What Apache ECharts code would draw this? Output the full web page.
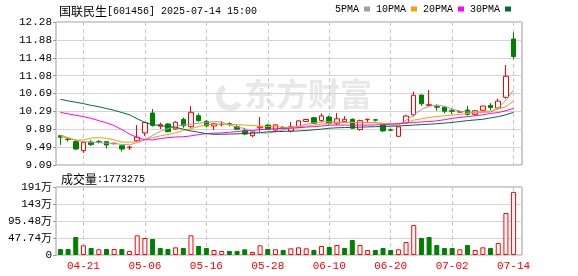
<!DOCTYPE html>
<html>
<head>
<meta charset="utf-8">
<script src="https://cdn.jsdelivr.net/npm/echarts@6/dist/echarts.min.js"></script>
<style>
html,body{margin:0;padding:0;background:#fff;}
#c{width:578px;height:276px;}
</style>
</head>
<body>
<div id="c"></div>
<script>
// ---- data ----
var dates = ['04-16','04-17','04-18','04-21','04-22','04-23','04-24','04-25','04-28','04-29',
  '04-30','05-06','05-07','05-08','05-09','05-12','05-13','05-14','05-15','05-16',
  '05-19','05-20','05-21','05-22','05-23','05-26','05-27','05-28','05-29','05-30',
  '06-03','06-04','06-05','06-06','06-09','06-10','06-11','06-12','06-13','06-16',
  '06-17','06-18','06-19','06-20','06-23','06-24','06-25','06-26','06-27','06-30',
  '07-01','07-02','07-03','07-04','07-07','07-08','07-09','07-10','07-11','07-14'];

var opens = [9.745,9.67,9.61,9.41,9.60,9.61,9.61,9.565,9.52,9.475,
  9.63,9.805,10.25,9.955,10.005,9.895,10.105,9.944,10.19,10.065,
  9.96,9.99,10.01,9.945,9.855,9.744,9.92,9.98,9.87,9.93,
  9.845,9.93,10.06,10.145,10.08,10.16,10.01,10.06,10.11,9.88,
  10.10,10.10,9.98,9.875,9.73,10.033,10.21,10.65,10.42,10.39,
  10.38,10.30,10.27,10.315,10.22,10.31,10.42,10.36,10.60,11.90];
var closes = [9.71,9.66,9.447,9.596,9.545,9.60,9.536,9.575,9.447,9.49,
  9.71,10.035,9.975,9.99,9.833,10.045,9.965,10.265,10.078,9.96,
  10.01,10.0,10.0,9.89,9.78,9.82,9.94,9.885,9.985,9.915,
  9.94,10.075,10.105,10.02,10.185,10.01,10.12,10.11,9.91,10.08,
  10.11,10.09,9.85,9.865,9.94,10.183,10.645,10.455,10.435,10.38,
  10.29,10.29,10.28,10.22,10.30,10.406,10.37,10.515,11.07,11.51];
var lows = [9.54,9.61,9.425,9.36,9.515,9.57,9.46,9.55,9.39,9.425,
  9.61,9.74,9.945,9.89,9.82,9.88,9.92,9.92,10.056,9.94,
  9.87,9.95,9.95,9.87,9.76,9.71,9.83,9.87,9.833,9.90,
  9.82,9.91,10.05,10.01,10.04,9.99,9.98,10.05,9.90,9.855,
  10.03,10.06,9.83,9.84,9.715,10.02,10.17,10.41,10.41,10.30,
  10.243,10.23,10.26,10.19,10.20,10.30,10.32,10.35,10.57,11.46];
var highs = [9.76,9.70,9.655,9.60,9.645,9.65,9.62,9.59,9.53,9.52,
  9.98,10.055,10.34,10.035,10.02,10.07,10.15,10.405,10.243,10.09,
  10.02,10.06,10.04,9.98,9.92,9.85,10.16,10.0,10.0,9.96,
  10.05,10.093,10.12,10.15,10.24,10.19,10.25,10.18,10.13,10.10,
  10.12,10.12,9.99,9.90,9.95,10.21,10.725,10.66,10.76,10.44,
  10.39,10.35,10.30,10.41,10.31,10.41,10.47,10.57,11.32,12.05];

var ma5 = [9.76,9.70,9.65,9.61,9.60,9.59,9.575,9.57,9.55,9.54,
  9.59,9.65,9.75,9.84,9.90,9.96,9.98,10.0,10.02,10.04,
  10.056,10.05,9.98,9.94,9.90,9.84,9.81,9.80,9.83,9.87,
  9.92,9.96,10.0,10.03,10.05,10.056,10.05,10.045,10.04,10.04,
  10.04,10.04,10.01,9.98,9.98,10.09,10.20,10.33,10.40,10.43,
  10.40,10.34,10.29,10.27,10.265,10.265,10.27,10.36,10.53,10.765];
var ma10 = [9.74,9.69,9.64,9.65,9.69,9.70,9.685,9.65,9.60,9.60,
  9.61,9.66,9.70,9.74,9.77,9.81,9.86,9.90,9.95,9.985,
  10.0,10.0,9.995,9.99,9.98,9.97,9.96,9.95,9.945,9.93,
  9.92,9.94,9.96,9.98,10.0,10.02,10.03,10.04,10.04,10.035,
  10.033,10.03,10.02,10.01,10.0,10.04,10.09,10.12,10.15,10.17,
  10.19,10.205,10.22,10.24,10.26,10.28,10.295,10.34,10.39,10.52];
var ma20 = [10.265,10.23,10.20,10.17,10.13,10.08,10.03,9.97,9.88,9.78,
  9.70,9.655,9.65,9.68,9.70,9.715,9.72,9.74,9.77,9.79,
  9.80,9.805,9.82,9.835,9.85,9.86,9.88,9.89,9.90,9.905,
  9.91,9.92,9.935,9.945,9.96,9.975,9.98,9.98,9.98,9.98,
  9.98,9.985,9.99,10.0,10.015,10.025,10.04,10.05,10.06,10.075,
  10.10,10.13,10.15,10.17,10.19,10.21,10.24,10.26,10.30,10.355];
var ma30 = [10.555,10.52,10.49,10.46,10.42,10.39,10.35,10.31,10.26,10.21,
  10.12,10.04,9.99,9.97,9.95,9.93,9.89,9.85,9.82,9.79,
  9.775,9.775,9.78,9.785,9.795,9.80,9.81,9.83,9.835,9.84,
  9.845,9.85,9.86,9.875,9.89,9.91,9.92,9.925,9.93,9.935,
  9.94,9.945,9.95,9.955,9.96,9.97,9.98,9.99,10.0,10.01,
  10.025,10.04,10.06,10.08,10.095,10.11,10.14,10.17,10.21,10.265];

var volumes = [168000,168000,505000,272000,197000,160000,168000,168000,168000,112000,
  552000,477000,449000,197000,168000,215000,197000,552000,253000,197000,
  140000,112000,112000,112000,160000,84000,272000,168000,160000,140000,
  187000,215000,187000,140000,253000,225000,280000,197000,421000,280000,
  140000,140000,197000,140000,160000,365000,842000,477000,505000,280000,
  197000,197000,160000,280000,140000,215000,197000,337000,1180000,1773275];
var volUp = [0,0,0,1,0,1,0,1,0,1,
  1,1,0,0,0,1,0,1,0,0,
  1,1,0,0,0,1,1,0,1,0,
  1,1,1,0,1,0,1,0,0,1,
  1,0,0,0,1,1,1,0,0,0,
  0,0,1,0,1,1,0,1,1,1];

var priceTicks = ['9.09','9.49','9.89','10.29','10.69','11.08','11.48','11.88','12.28'];
var volTicks = ['0','47.74万','95.48万','143万','191万'];
var priceMin = 9.09, priceMax = 12.28, volMax = 1909600;
var titleName = '国联民生', titleRest = '[601456] 2025-07-14 15:00';
var volName = '成交量', volRest = ':1773275';
var maNames = ['5PMA','10PMA','20PMA','30PMA'];
var maColors = ['#a0a0a0','#f5a000','#ff00ff','#006e32'];

// ---- chart ----
var RED = '#ff0000', GREEN = '#008000';
var MONO = 'Liberation Mono';
var CJK = 'Noto Sans CJK SC';
var labelEvery = function (i) { return (i - 3) % 8 === 0; };
var richText = {
  c: { fontSize: 12, fontFamily: CJK, color: '#000', fontWeight: 'normal' },
  l: { fontSize: 10, fontFamily: MONO, color: '#000', fontWeight: 'normal' },
  la: { fontSize: 11, fontFamily: MONO, color: '#000', fontWeight: 'normal' },
  ca: { fontSize: 11, fontFamily: CJK, color: '#000', fontWeight: 'normal' }
};

var candleData = opens.map(function (o, i) { return [o, closes[i], lows[i], highs[i]]; });
var volData = volumes.map(function (v, i) {
  var up = volUp[i] === 1;
  return { value: v, itemStyle: { color: up ? '#ffffff' : GREEN, borderColor: up ? RED : GREEN, borderWidth: 1 } };
});
var maSeries = [ma5, ma10, ma20, ma30].map(function (arr, k) {
  return {
    name: maNames[k], type: 'line', xAxisIndex: 1, yAxisIndex: 1, data: arr,
    symbol: 'none', smooth: false, animation: false,
    lineStyle: { color: maColors[k], width: 1 }, itemStyle: { color: maColors[k] }, z: 3
  };
});

var frameY = function (grid, ticks) {
  return {
    type: 'value', gridIndex: grid, min: 0, max: ticks.length - 1, interval: 1,
    axisLine: { show: false },
    axisTick: { show: true, length: 3, lineStyle: { color: '#999' } },
    axisLabel: { margin: 4, rich: richText,
      formatter: function (v) {
        var t = ticks[Math.round(v)];
        if (t.indexOf('万') >= 0) return '{la|' + t.replace('万', '') + '}{ca|万}';
        return '{la|' + t + '}';
      } },
    splitLine: { show: true, lineStyle: { color: '#d4d4d4', width: 1 } }
  };
};
var dataX = function (grid, showLabel) {
  return {
    type: 'category', gridIndex: grid, data: dates, boundaryGap: false,
    axisLine: { show: false }, axisTick: { show: false },
    axisLabel: { show: showLabel, interval: labelEvery, color: RED, fontSize: 11, fontFamily: MONO, margin: 6 },
    splitLine: { show: true, interval: labelEvery, lineStyle: { color: '#c8c8c8', type: [4, 3], width: 1 } }
  };
};

var chart = echarts.init(document.getElementById('c'), null, { renderer: 'canvas' });
chart.setOption({
  animation: false,
  backgroundColor: '#ffffff',
  title: [
    { text: '{c|' + titleName + '}{l|' + titleRest + '}', left: 54, top: 0,
      textStyle: { fontWeight: 'normal', rich: richText } },
    { text: '{c|' + volName + '}{l|' + volRest + '}', left: 56, top: 168,
      textStyle: { fontWeight: 'normal', rich: richText } }
  ],
  legend: {
    data: maNames, right: 67, top: 4, align: 'right', icon: 'rect', itemWidth: 6, itemHeight: 5,
    itemGap: 6, selectedMode: false, padding: 0,
    textStyle: { fontSize: 10, color: '#000', fontFamily: MONO, padding: [0, 0, 0, 0] }
  },
  graphic: [
    { type: 'text', left: 244, top: 78, z: 0, silent: true,
      style: { text: '东方财富', fontSize: 32, fontWeight: 'bold', fontFamily: CJK, fill: '#e8e8e8' } },
    { type: 'arc', z: 0, silent: true, shape: { cx: 230, cy: 97, r: 11, startAngle: 0.6, endAngle: 4.2 },
      style: { stroke: '#e8e8e8', lineWidth: 6, fill: null } }
  ],
  grid: [
    { left: 56, right: 56, top: 22, height: 143, show: true, borderColor: '#999', borderWidth: 1, backgroundColor: 'transparent' },
    { left: 60.4, right: 64.4, top: 22, height: 143 },
    { left: 56, right: 56, top: 187, height: 68, show: true, borderColor: '#999', borderWidth: 1, backgroundColor: 'transparent' },
    { left: 60.4, right: 64.4, top: 187, height: 68 }
  ],
  xAxis: [
    { type: 'value', gridIndex: 0, show: false, min: 0, max: 1 },
    dataX(1, false),
    { type: 'value', gridIndex: 2, show: false, min: 0, max: 1 },
    dataX(3, true)
  ],
  yAxis: [
    frameY(0, priceTicks),
    { type: 'value', gridIndex: 1, min: priceMin, max: priceMax, show: false },
    frameY(2, volTicks),
    { type: 'value', gridIndex: 3, min: 0, max: volMax, show: false }
  ],
  series: [
    {
      type: 'candlestick', xAxisIndex: 1, yAxisIndex: 1, data: candleData, barWidth: 5, clip: false, z: 2,
      itemStyle: { color: '#ffffff', color0: GREEN, borderColor: RED, borderColor0: GREEN, borderWidth: 1 }
    }
  ].concat(maSeries).concat([
    {
      type: 'bar', xAxisIndex: 3, yAxisIndex: 3, data: volData, barWidth: 5, clip: false, z: 2
    }
  ])
});
</script>
</body>
</html>
